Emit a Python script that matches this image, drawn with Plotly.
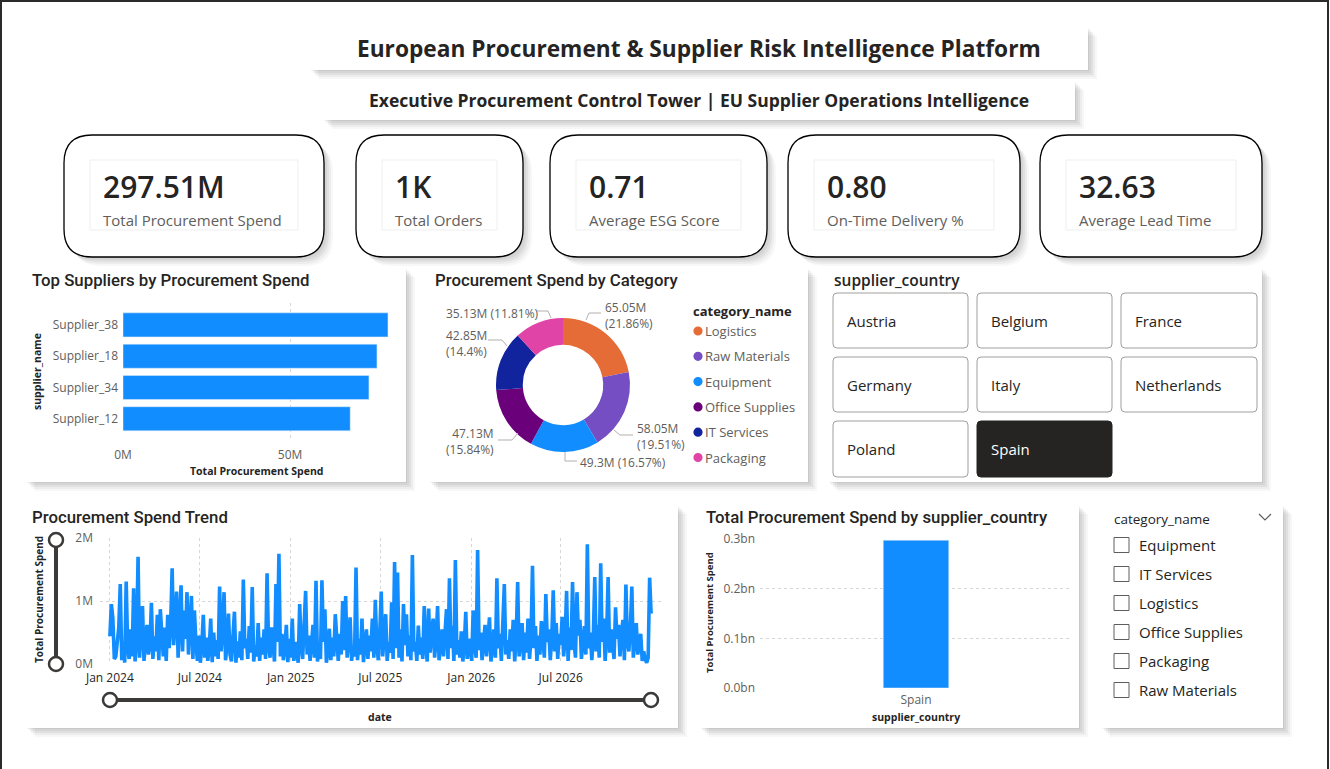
import plotly.graph_objects as go
import pandas as pd

W, H = 1330, 769
def X(px): return px / W
def Y(py): return 1 - py / H

BODY = "Open Sans"
TITLE = "Roboto"
DARK = "#252423"
GRAY = "#605E5C"
BLUE = "#118DFF"

# ---------------- data ----------------
kpi_values = ["297.51M", "1K", "0.71", "0.80", "32.63"]
kpi_labels = ["Total Procurement Spend", "Total Orders", "Average ESG Score",
              "On-Time Delivery %", "Average Lead Time"]

suppliers = ["Supplier_38", "Supplier_18", "Supplier_34", "Supplier_12"]
supplier_spend_m = [79.3, 76.0, 73.6, 68.0]

categories = ["Logistics", "Raw Materials", "Equipment", "Office Supplies", "IT Services", "Packaging"]
category_spend_m = [65.05, 58.05, 49.30, 47.13, 42.85, 35.13]
category_pct = ["21.86", "19.51", "16.57", "15.84", "14.4", "11.81"]
category_colors = ["#E66C37", "#744EC2", "#118DFF", "#6B007B", "#12239E", "#E044A7"]

countries = ["Austria", "Belgium", "France", "Germany", "Italy", "Netherlands", "Poland", "Spain"]
selected_country = "Spain"

country_names = ["Spain"]
country_spend_bn = [0.29751]
country_ticks_bn = [0.0, 0.1, 0.2, 0.3]

trend_start = "2024-01-01"
trend_spend_m = [
    0.44,0.95,0.73,0.08,0.12,0.45,0.58,1.27,0.06,0.35,0.02,1.31,0.25,0.08,0.55,0.12,1.20,0.04,0.38,1.70,
    0.10,0.52,0.92,0.05,0.40,0.62,0.15,0.30,0.97,0.08,0.44,0.20,0.78,0.06,0.87,0.35,0.12,0.58,0.05,0.78,
    0.25,0.65,1.52,0.30,0.72,1.15,0.10,0.55,1.25,0.20,0.85,0.40,1.14,0.15,0.60,1.08,0.08,0.85,0.35,0.05,
    0.45,0.02,0.30,0.78,0.10,0.42,0.05,0.25,0.72,0.03,0.50,0.12,0.38,0.08,1.23,0.20,0.55,1.14,0.06,0.32,
    0.80,0.15,0.04,0.48,0.83,0.02,0.36,0.10,0.52,0.06,1.34,0.25,0.40,0.08,0.60,0.18,1.22,0.04,0.30,0.12,
    0.65,0.05,0.42,0.15,0.55,0.08,1.44,0.30,0.10,0.58,0.20,0.04,1.27,0.35,1.75,0.12,0.48,0.06,0.25,0.62,
    0.03,0.40,0.10,0.72,0.05,0.35,0.18,0.02,0.95,0.28,0.08,0.60,1.16,0.15,0.45,0.05,0.30,0.62,0.10,1.32,
    0.04,0.25,0.08,1.33,0.35,0.87,0.02,0.20,0.56,0.06,0.42,0.12,0.79,0.30,0.05,0.48,0.15,1.00,0.22,1.08,
    0.10,0.38,0.74,0.05,0.28,0.12,1.53,0.06,0.40,0.15,0.72,0.03,0.33,0.55,0.08,0.45,0.20,0.72,0.10,1.02,
    0.30,0.06,0.50,1.15,0.12,0.40,0.79,0.05,0.35,0.18,0.98,0.08,1.62,0.25,1.45,0.10,0.55,0.04,0.95,0.30,
    0.79,0.12,0.45,0.06,1.73,0.20,0.35,0.05,0.61,0.15,0.42,0.08,0.92,0.30,0.04,0.88,0.18,0.50,0.72,0.10,
    0.40,0.92,0.06,0.30,0.55,0.12,0.45,0.87,0.08,1.36,0.25,0.60,0.05,1.65,0.15,0.38,0.10,0.52,0.04,0.30,
    0.83,0.08,0.40,0.20,0.05,0.85,0.30,0.10,1.81,0.22,0.50,0.06,0.35,0.62,0.12,0.45,0.74,0.04,0.28,0.55,
    0.10,1.36,0.25,0.48,0.05,0.60,1.27,0.15,0.38,0.08,0.55,0.20,0.70,0.04,0.42,1.30,0.12,0.35,0.65,0.06,
    0.50,0.18,0.72,0.08,0.40,1.56,0.25,0.60,0.05,0.45,0.15,0.68,0.30,0.10,1.11,0.35,0.55,0.06,0.42,1.17,
    0.20,0.65,0.08,0.48,0.30,0.75,0.12,0.40,1.16,0.05,0.58,0.22,1.30,0.35,0.10,1.14,0.45,0.70,0.08,0.38,
    0.60,0.15,1.90,0.25,0.50,0.06,0.40,1.38,0.20,0.62,0.10,1.60,0.35,0.72,0.05,0.45,1.38,0.18,0.55,0.30,
    0.08,0.90,0.40,0.62,0.12,0.50,0.70,0.06,1.26,0.35,0.20,0.58,1.23,0.10,0.45,0.65,0.15,0.30,0.48,0.05,
    0.20,0.08,0.02,0.10,1.37,0.80,
]
trend_dates = pd.date_range(trend_start, periods=len(trend_spend_m), freq="3D")
trend_tick_dates = ["2024-01-01", "2024-07-01", "2025-01-01", "2025-07-01", "2026-01-01", "2026-07-01"]
trend_tick_text = ["Jan 2024", "Jul 2024", "Jan 2025", "Jul 2025", "Jan 2026", "Jul 2026"]

# ---------------- helpers ----------------
shapes = []
annotations = []

def rect(x0, y0, x1, y1, fill="white", line=None, lw=0, layer="below"):
    shapes.append(dict(type="rect", xref="paper", yref="paper",
                       x0=X(x0), x1=X(x1), y0=Y(y1), y1=Y(y0),
                       fillcolor=fill, line=dict(color=line or "rgba(0,0,0,0)", width=lw),
                       layer=layer))

def rrect(x0, y0, x1, y1, r, fill="white", line=None, lw=0, layer="below"):
    p = (f"M{X(x0+r)},{Y(y0)} L{X(x1-r)},{Y(y0)} Q{X(x1)},{Y(y0)} {X(x1)},{Y(y0+r)} "
         f"L{X(x1)},{Y(y1-r)} Q{X(x1)},{Y(y1)} {X(x1-r)},{Y(y1)} "
         f"L{X(x0+r)},{Y(y1)} Q{X(x0)},{Y(y1)} {X(x0)},{Y(y1-r)} "
         f"L{X(x0)},{Y(y0+r)} Q{X(x0)},{Y(y0)} {X(x0+r)},{Y(y0)} Z")
    shapes.append(dict(type="path", xref="paper", yref="paper", path=p,
                       fillcolor=fill, line=dict(color=line or "rgba(0,0,0,0)", width=lw),
                       layer=layer))

def shadow(x0, y0, x1, y1, r=0):
    for off, a in [(1, 0.05), (3, 0.05), (5, 0.05), (7, 0.04), (9, 0.03)]:
        if r:
            rrect(x0 + off, y0 + off, x1 + off, y1 + off, r, fill=f"rgba(0,0,0,{a})")
        else:
            rect(x0 + off, y0 + off, x1 + off, y1 + off, fill=f"rgba(0,0,0,{a})")

def line(pts, color="#A0A0A0", w=1, layer="above"):
    p = "M" + " L".join(f"{X(a)},{Y(b)}" for a, b in pts)
    shapes.append(dict(type="path", xref="paper", yref="paper", path=p,
                       line=dict(color=color, width=w), layer=layer))

def circle(cx, cy, r, fill="white", lc="#3B3A39", lw=2.5, layer="above"):
    shapes.append(dict(type="circle", xref="paper", yref="paper",
                       x0=X(cx - r), x1=X(cx + r), y0=Y(cy + r), y1=Y(cy - r),
                       fillcolor=fill, line=dict(color=lc, width=lw), layer=layer))

def text(x, y, s, size=12, color=DARK, xanchor="left", yanchor="middle", weight="normal",
         family=BODY, align="left", angle=0):
    annotations.append(dict(x=X(x), y=Y(y), xref="paper", yref="paper", text=s, showarrow=False,
                            xanchor=xanchor, yanchor=yanchor, align=align, textangle=angle,
                            borderpad=0, font=dict(size=size, color=color, family=family, weight=weight)))

# ---------------- page frame ----------------
line([(1, 769), (1, 1), (1328, 1), (1328, 769)], color="#2B2B2B", w=2)

# ---------------- header ----------------
shadow(310, 27, 1088, 70)
rect(310, 27, 1088, 70)
text(699, 48, "European Procurement &amp; Supplier Risk Intelligence Platform", size=22.7, weight="bold",
     xanchor="center")
shadow(323, 81, 1075, 120)
rect(323, 81, 1075, 120)
text(699, 100, "Executive Procurement Control Tower | EU Supplier Operations Intelligence", size=17.5,
     weight="bold", xanchor="center")

# ---------------- KPI cards ----------------
cards = [(64, 324), (356, 523), (550, 767), (788, 1020), (1040, 1262)]
for (cx0, cx1), v, lab in zip(cards, kpi_values, kpi_labels):
    shadow(cx0, 135, cx1, 257, r=28)
    rrect(cx0, 135, cx1, 257, 28, fill="white", line="#000000", lw=1.3)
    ix0, ix1 = cx0 + 26, cx1 - 26
    rect(ix0, 160, ix1, 230, fill="white", line="#EFEFEF", lw=1)
    text(ix0 + 12, 187, v, size=30, weight=600)
    text(ix0 + 12, 220, lab, size=15, color=GRAY)

# ---------------- panels ----------------
panels = [(26, 268, 406, 482), (429, 268, 808, 482), (828, 268, 1262, 482),
          (26, 505, 678, 728), (700, 505, 1079, 728), (1101, 505, 1283, 728)]
for p in panels:
    shadow(*p)
    rect(*p)

TS = 16.8
text(31, 280, "Top Suppliers by Procurement Spend", size=TS, family=TITLE, weight=500)
text(434, 280, "Procurement Spend by Category", size=TS, family=TITLE, weight=500)
text(833, 280, "supplier_country", size=15.5, weight=600)
text(31, 517, "Procurement Spend Trend", size=TS, family=TITLE, weight=500)
text(705, 517, "Total Procurement Spend by supplier_country", size=TS, family=TITLE, weight=500)

# bar chart axis titles
text(37, 372, "supplier_name", size=10.5, weight="bold", angle=-90, xanchor="center")
text(256, 471, "Total Procurement Spend", size=10.5, weight="bold", xanchor="center")

# ---------------- donut labels ----------------
lbl_pos = [  # (x, y, xanchor, multiline)
    (604, 315, "left", True),
    (636, 436, "left", True),
    (579, 462, "left", False),
    (495, 441, "right", True),
    (445, 343, "left", True),
    (445, 313, "left", False),
]
leaders = [
    [(586, 320), (589, 313), (601, 313)],
    [(614, 430), (620, 435), (633, 435)],
    [(565, 452), (565, 461), (577, 461)],
    [(518, 433), (512, 440), (498, 440)],
    [(507, 346), (502, 340), (488, 340)],
    [(551, 318), (548, 311), (537, 311)],
]
for v, pc, (lx, ly, xa, ml), ld in zip(category_spend_m, category_pct, lbl_pos, leaders):
    sep = "<br>" if ml else " "
    text(lx, ly, f"{v:g}M{sep}({pc}%)", size=12, color=GRAY, xanchor=xa, align=xa)
    line(ld, color="#B3B0AD", w=1)

text(692, 311, "category_name", size=13, weight="bold")
for i, (c, col) in enumerate(zip(categories, category_colors)):
    yy = 331 + i * 25.3
    circle(698, yy, 4.6, fill=col, lc=col, lw=0)
    text(704, yy, c, size=13, color=GRAY)

# ---------------- country slicer ----------------
cols_x = [(833, 968), (977, 1112), (1121, 1257)]
rows_y = [(293, 348), (357, 412), (421, 477)]
for i, c in enumerate(countries):
    (bx0, bx1), (by0, by1) = cols_x[i % 3], rows_y[i // 3]
    sel = c == selected_country
    rrect(bx0, by0, bx1, by1, 4, fill=DARK if sel else "white",
          line=DARK if sel else "#A19F9D", lw=1, layer="above")
    text(bx0 + 13, (by0 + by1) / 2, c, size=15, color="white" if sel else DARK)

# ---------------- trend extras ----------------
text(39, 600, "Total Procurement Spend", size=10, weight="bold", angle=-90, xanchor="center")
line([(56, 540), (56, 664)], color="#3B3A39", w=4)
circle(56, 540, 7)
circle(56, 664, 7)
line([(110, 700), (651, 700)], color="#3B3A39", w=4)
circle(110, 700, 7)
circle(651, 700, 7)
text(380, 717, "date", size=10.5, weight="bold", xanchor="center")

# ---------------- country bar extras ----------------
text(709, 613, "Total Procurement Spend", size=9.5, weight="bold", angle=-90, xanchor="center")
text(916, 717, "supplier_country", size=10.5, weight="bold", xanchor="center")

# ---------------- category list slicer ----------------
text(1113, 519, "category_name", size=13.5)
line([(1259, 514), (1265, 520), (1271, 514)], color=GRAY, w=1.2)
for i, c in enumerate(sorted(categories)):
    yy = 545 + i * 29
    rect(1114, yy - 7.5, 1129, yy + 7.5, fill="white", line="#605E5C", lw=1, layer="above")
    text(1138, yy, c, size=15, color=DARK)

# ---------------- traces ----------------
fig = go.Figure()
fig.add_trace(go.Bar(x=supplier_spend_m, y=suppliers, orientation="h", marker_color=BLUE,
                     width=0.77, xaxis="x", yaxis="y", showlegend=False))
fig.add_trace(go.Pie(labels=categories, values=category_spend_m, hole=0.6, sort=False,
                     direction="clockwise", rotation=0, textinfo="none",
                     marker=dict(colors=category_colors, line=dict(width=0)),
                     domain=dict(x=[X(496), X(630)], y=[Y(452), Y(318)]), showlegend=False))
fig.add_trace(go.Scatter(x=trend_dates, y=trend_spend_m, mode="lines",
                         line=dict(color=BLUE, width=3.6), xaxis="x2", yaxis="y2", showlegend=False))
fig.add_trace(go.Bar(x=country_names, y=country_spend_bn, marker_color=BLUE, width=0.21,
                     xaxis="x3", yaxis="y3", showlegend=False))

grid = dict(showgrid=True, gridcolor="#D6D6D6", griddash="dot", gridwidth=1, zeroline=False,
            showline=False, ticks="", fixedrange=True, automargin=False)

fig.update_layout(
    width=W, height=H, margin=dict(l=0, r=0, t=0, b=0, pad=0, autoexpand=False), autosize=False,
    paper_bgcolor="white", plot_bgcolor="rgba(0,0,0,0)",
    font=dict(family=BODY, color=GRAY),
    shapes=shapes, annotations=annotations, showlegend=False,
    xaxis=dict(domain=[X(123), X(395)], anchor="y", range=[0, 81.4], tickvals=[0, 50],
               ticktext=["0M", "50M"], tickfont=dict(size=12, color=GRAY), ticklabelstandoff=5, **grid),
    yaxis=dict(domain=[Y(441), Y(303)], anchor="x", range=[3.71, -0.70], type="category",
               categoryorder="array", categoryarray=suppliers, showgrid=False, zeroline=False,
               ticks="", tickfont=dict(size=12, color=GRAY), ticklabelstandoff=4, fixedrange=True,
               automargin=False),
    xaxis2=dict(domain=[X(100), X(661)], anchor="y2", type="date",
                range=["2023-12-12", "2027-01-20"], tickvals=trend_tick_dates,
                ticktext=trend_tick_text, tickfont=dict(size=12, color=DARK), ticklabelstandoff=5, **grid),
    yaxis2=dict(domain=[Y(664), Y(538)], anchor="x2", range=[0, 2], tickvals=[0, 1, 2],
                ticktext=["0M", "1M", "2M"], tickfont=dict(size=12, color=GRAY),
                ticklabelstandoff=6, **grid),
    xaxis3=dict(domain=[X(760), X(1072)], anchor="y3", range=[-0.5, 0.5], showgrid=False,
                zeroline=False, ticks="", tickfont=dict(size=12, color=GRAY), ticklabelstandoff=3,
                fixedrange=True, automargin=False),
    yaxis3=dict(domain=[Y(688), Y(539)], anchor="x3", range=[0, 0.3], tickvals=country_ticks_bn,
                ticktext=[f"{v:.1f}bn" for v in country_ticks_bn], tickfont=dict(size=12, color=GRAY),
                ticklabelstandoff=4, **grid),
)

fig.write_html("out.html",
               post_script="document.body.style.margin='0';document.body.style.overflow='hidden';")
